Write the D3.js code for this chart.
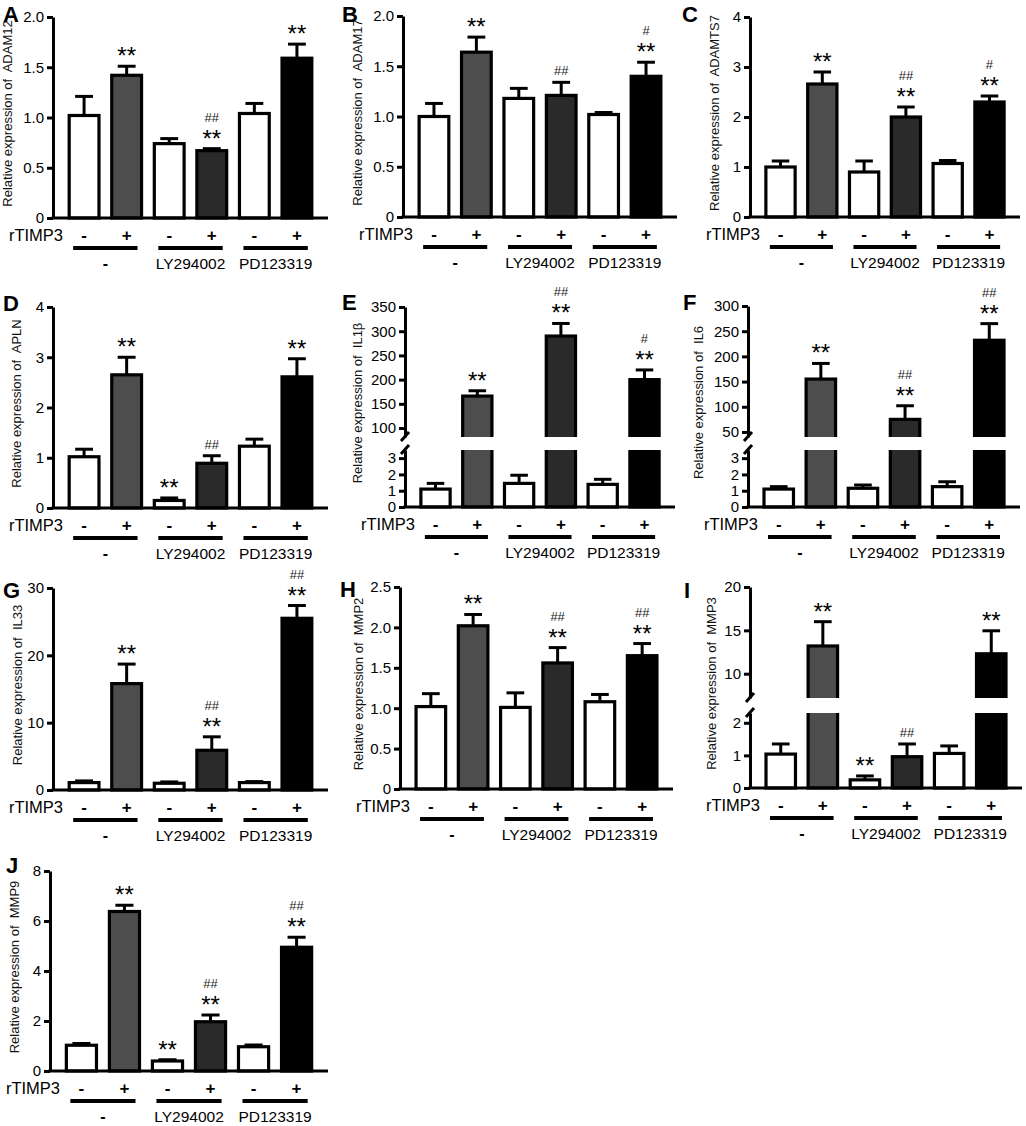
<!DOCTYPE html>
<html>
<head>
<meta charset="utf-8">
<script src="https://cdn.jsdelivr.net/npm/d3@7"></script>
<style>
  body { margin: 0; background: #fff; }
  svg { display: block; }
</style>
</head>
<body>
<div id="fig"></div>
<script>
const FRAME_WIDTH = 1026;
const FRAME_HEIGHT = 1126;
const FONT = "Liberation Sans, Arial, Helvetica, sans-serif";

// shared categories
const TREATMENT = ["-", "+", "-", "+", "-", "+"];
const GROUPS = ["-", "LY294002", "PD123319"];
const FILLS = ["#ffffff", "#4d4d4d", "#ffffff", "#2a2a2a", "#ffffff", "#000000"];

// values (mean, error, significance marks)
const ADAM12 = [1.02, 1.42, 0.74, 0.67, 1.04, 1.59];
const ADAM12_ERR = [0.19, 0.09, 0.05, 0.02, 0.10, 0.14];
const ADAM12_SIG = ["", "**", "", "##|**", "", "**"];

const ADAM17 = [1.00, 1.64, 1.18, 1.21, 1.02, 1.40];
const ADAM17_ERR = [0.13, 0.15, 0.10, 0.13, 0.02, 0.14];
const ADAM17_SIG = ["", "**", "", "##", "", "#|**"];

const ADAMTS7 = [1.00, 2.66, 0.90, 2.00, 1.07, 2.30];
const ADAMTS7_ERR = [0.12, 0.24, 0.22, 0.20, 0.06, 0.12];
const ADAMTS7_SIG = ["", "**", "", "##|**", "", "#|**"];

const APLN = [1.02, 2.65, 0.15, 0.89, 1.23, 2.61];
const APLN_ERR = [0.15, 0.35, 0.05, 0.15, 0.14, 0.36];
const APLN_SIG = ["", "**", "**", "##", "", "**"];

const IL1B = [1.10, 166, 1.45, 290, 1.39, 200];
const IL1B_ERR = [0.35, 11, 0.50, 26, 0.31, 20];
const IL1B_SIG = ["", "**", "", "##|**", "", "#|**"];

const IL6 = [1.10, 155, 1.15, 75, 1.25, 232];
const IL6_ERR = [0.15, 31, 0.20, 27, 0.30, 33];
const IL6_SIG = ["", "**", "", "##|**", "", "##|**"];

const IL33 = [1.1, 15.8, 1.0, 5.9, 1.1, 25.5];
const IL33_ERR = [0.25, 2.9, 0.2, 2.0, 0.15, 1.9];
const IL33_SIG = ["", "**", "", "##|**", "", "##|**"];

const MMP2 = [1.02, 2.02, 1.01, 1.56, 1.08, 1.65];
const MMP2_ERR = [0.16, 0.14, 0.18, 0.19, 0.09, 0.15];
const MMP2_SIG = ["", "**", "", "##|**", "", "##|**"];

const MMP3 = [1.04, 13.2, 0.25, 0.96, 1.06, 12.3];
const MMP3_ERR = [0.31, 2.8, 0.12, 0.39, 0.23, 2.65];
const MMP3_SIG = ["", "**", "**", "##", "", "**"];

const MMP9 = [1.03, 6.38, 0.40, 1.97, 0.97, 4.95];
const MMP9_ERR = [0.07, 0.25, 0.05, 0.27, 0.07, 0.40];
const MMP9_SIG = ["", "**", "**", "##|**", "", "##|**"];

// tick labels
const TICKS_2 = [0, 0.5, 1.0, 1.5, 2.0];
const TICKS_25 = [0, 0.5, 1.0, 1.5, 2.0, 2.5];
const TICKS_4 = [0, 1, 2, 3, 4];
const TICKS_30 = [0, 10, 20, 30];
const TICKS_8 = [0, 2, 4, 6, 8];
const LOW_TICKS_3 = [0, 1, 2, 3];
const LOW_TICKS_2 = [0, 1, 2];
const HIGH_TICKS_IL1B = [100, 150, 200, 250, 300, 350];
const HIGH_TICKS_IL6 = [50, 100, 150, 200, 250, 300];
const HIGH_TICKS_MMP3 = [10, 15, 20];

const fmt1 = d => d === 0 ? "0" : d3.format(".1f")(d);
const fmt0 = d3.format("d");

// panel layout (pixels) + which data goes where
const PANELS = [
  {letter: "A", lx: 3, ly: 22, gene: "ADAM12", mean: ADAM12, err: ADAM12_ERR, sig: ADAM12_SIG,
   ax: 53, top: 17, y0: 218, right: 328, labelX: 7, max: 2, ticks: TICKS_2, fmt: fmt1},
  {letter: "B", lx: 342, ly: 22, gene: "ADAM17", mean: ADAM17, err: ADAM17_ERR, sig: ADAM17_SIG,
   ax: 403, top: 16, y0: 217, right: 677, labelX: 357, max: 2, ticks: TICKS_2, fmt: fmt1},
  {letter: "C", lx: 682, ly: 22, gene: "ADAMTS7", mean: ADAMTS7, err: ADAMTS7_ERR, sig: ADAMTS7_SIG,
   ax: 750, top: 17, y0: 217, right: 1020, labelX: 714, max: 4, ticks: TICKS_4, fmt: fmt0},
  {letter: "D", lx: 3, ly: 311, gene: "APLN", mean: APLN, err: APLN_ERR, sig: APLN_SIG,
   ax: 53, top: 307, y0: 508, right: 328, labelX: 16, max: 4, ticks: TICKS_4, fmt: fmt0},
  {letter: "E", lx: 342, ly: 310, gene: "IL1\u03B2", mean: IL1B, err: IL1B_ERR, sig: IL1B_SIG,
   ax: 405, top: 307, y0: 507, right: 675, labelX: 357, brk: [437, 450],
   lowMax: 3.5, highMin: 81.5, highMax: 350, lowTicks: LOW_TICKS_3, highTicks: HIGH_TICKS_IL1B, fmt: fmt0},
  {letter: "F", lx: 683, ly: 310, gene: "IL6", mean: IL6, err: IL6_ERR, sig: IL6_SIG,
   ax: 748, top: 306, y0: 507, right: 1020, labelX: 698, brk: [437, 450],
   lowMax: 3.5, highMin: 40, highMax: 300, lowTicks: LOW_TICKS_3, highTicks: HIGH_TICKS_IL6, fmt: fmt0},
  {letter: "G", lx: 3, ly: 598, gene: "IL33", mean: IL33, err: IL33_ERR, sig: IL33_SIG,
   ax: 53, top: 588, y0: 790, right: 328, labelX: 17, max: 30, ticks: TICKS_30, fmt: fmt0},
  {letter: "H", lx: 340, ly: 597, gene: "MMP2", mean: MMP2, err: MMP2_ERR, sig: MMP2_SIG,
   ax: 400, top: 587, y0: 789, right: 673, labelX: 358, max: 2.5, ticks: TICKS_25, fmt: fmt1},
  {letter: "I", lx: 684, ly: 598, gene: "MMP3", mean: MMP3, err: MMP3_ERR, sig: MMP3_SIG,
   ax: 750, top: 587, y0: 788, right: 1022, labelX: 711, brk: [698, 713],
   lowMax: 2.3, highMin: 7.2, highMax: 20, lowTicks: LOW_TICKS_2, highTicks: HIGH_TICKS_MMP3, fmt: fmt0},
  {letter: "J", lx: 6, ly: 873, gene: "MMP9", mean: MMP9, err: MMP9_ERR, sig: MMP9_SIG,
   ax: 50, top: 871, y0: 1071, right: 328, labelX: 14, max: 8, ticks: TICKS_8, fmt: fmt0}
];

const FRAME = d3.select("#fig")
  .append("svg")
    .attr("width", FRAME_WIDTH)
    .attr("height", FRAME_HEIGHT)
    .attr("font-family", FONT);

function styleAxis(g) {
  g.attr("font-size", 15).attr("font-family", FONT);
  g.selectAll("path, line").attr("stroke", "#000").attr("stroke-width", 3);
  g.selectAll("text").attr("fill", "#000");
}

function drawPanel(p) {
  const G = FRAME.append("g");
  const idx = d3.range(p.mean.length);

  const X_SCALE = d3.scaleBand()
    .domain(idx)
    .range([p.ax, p.right])
    .paddingInner(0.3)
    .paddingOuter(0.38);
  const bw = X_SCALE.bandwidth();

  let LOW, HIGH, Y;
  if (p.brk) {
    LOW = d3.scaleLinear().domain([0, p.lowMax]).range([p.y0, p.brk[1]]);
    HIGH = d3.scaleLinear().domain([p.highMin, p.highMax]).range([p.brk[0], p.top]);
    Y = v => v <= p.lowMax ? LOW(v) : HIGH(v);
  } else {
    LOW = d3.scaleLinear().domain([0, p.max]).range([p.y0, p.top]);
    Y = LOW;
  }

  // error bars (drawn first so the bar outline sits over the stem)
  const eb = G.selectAll(".err").data(idx).enter().append("g");
  eb.append("line")
    .attr("x1", i => X_SCALE(i) + bw / 2)
    .attr("x2", i => X_SCALE(i) + bw / 2)
    .attr("y1", i => Y(p.mean[i]))
    .attr("y2", i => Y(p.mean[i] + p.err[i]))
    .attr("stroke", "#000").attr("stroke-width", 3);
  eb.append("line")
    .attr("x1", i => X_SCALE(i) + bw / 2 - bw * 0.3)
    .attr("x2", i => X_SCALE(i) + bw / 2 + bw * 0.3)
    .attr("y1", i => Y(p.mean[i] + p.err[i]))
    .attr("y2", i => Y(p.mean[i] + p.err[i]))
    .attr("stroke", "#000").attr("stroke-width", 3);

  // bars
  G.selectAll("rect.bar").data(idx).enter().append("rect")
    .attr("class", "bar")
    .attr("x", i => X_SCALE(i))
    .attr("y", i => Y(p.mean[i]))
    .attr("width", bw)
    .attr("height", i => p.y0 - Y(p.mean[i]))
    .attr("fill", i => FILLS[i])
    .attr("stroke", "#000")
    .attr("stroke-width", 3.2);

  // gap of the broken axis
  if (p.brk) {
    G.append("rect")
      .attr("x", p.ax + 2)
      .attr("y", p.brk[0])
      .attr("width", p.right - p.ax)
      .attr("height", p.brk[1] - p.brk[0])
      .attr("fill", "#fff");
  }

  // y axis
  if (p.brk) {
    G.append("g")
      .attr("transform", "translate(" + p.ax + ",0)")
      .call(d3.axisLeft(LOW).tickValues(p.lowTicks).tickFormat(p.fmt).tickSize(6).tickSizeOuter(0).tickPadding(3))
      .call(styleAxis);
    G.append("g")
      .attr("transform", "translate(" + p.ax + ",0)")
      .call(d3.axisLeft(HIGH).tickValues(p.highTicks).tickFormat(p.fmt).tickSize(6).tickSizeOuter(0).tickPadding(3))
      .call(styleAxis);
    // break marks
    G.selectAll(".slash").data(p.brk).enter().append("line")
      .attr("x1", p.ax - 4).attr("y1", d => d + 4)
      .attr("x2", p.ax + 4).attr("y2", d => d - 5)
      .attr("stroke", "#000").attr("stroke-width", 3);
  } else {
    G.append("g")
      .attr("transform", "translate(" + p.ax + ",0)")
      .call(d3.axisLeft(LOW).tickValues(p.ticks).tickFormat(p.fmt).tickSize(6).tickSizeOuter(0).tickPadding(3))
      .call(styleAxis);
  }

  // x axis line
  G.append("line")
    .attr("x1", p.ax - 1.5).attr("x2", p.right)
    .attr("y1", p.y0).attr("y2", p.y0)
    .attr("stroke", "#000").attr("stroke-width", 3);

  // y label
  G.append("text")
    .attr("transform", "translate(" + p.labelX + "," + ((p.top + p.y0) / 2 - 4) + ") rotate(-90)")
    .attr("text-anchor", "middle")
    .attr("dominant-baseline", "central")
    .style("white-space", "pre")
    .attr("font-size", 13)
    .attr("fill", "#111")
    .text("Relative expression of  " + p.gene);

  // significance marks
  idx.forEach(i => {
    if (!p.sig[i]) return;
    const parts = p.sig[i].split("|");
    const top = Y(p.mean[i] + p.err[i]);
    const cx = X_SCALE(i) + bw / 2;
    if (parts.length === 2) {
      G.append("text").attr("x", cx).attr("y", top - 27)
        .attr("text-anchor", "middle").attr("font-size", 13).attr("fill", "#222")
        .text(parts[0]);
      G.append("text").attr("x", cx).attr("y", top - 2)
        .attr("text-anchor", "middle").attr("font-size", 24).attr("fill", "#000")
        .text(parts[1]);
    } else if (parts[0].startsWith("#")) {
      G.append("text").attr("x", cx).attr("y", top - 7)
        .attr("text-anchor", "middle").attr("font-size", 13).attr("fill", "#222")
        .text(parts[0]);
    } else {
      G.append("text").attr("x", cx).attr("y", top - 2)
        .attr("text-anchor", "middle").attr("font-size", 24).attr("fill", "#000")
        .text(parts[0]);
    }
  });

  // treatment row
  G.append("text")
    .attr("x", p.ax + 10).attr("y", p.y0 + 23)
    .attr("text-anchor", "end").attr("font-size", 16.5)
    .text("rTIMP3");
  G.selectAll(".treat").data(idx).enter().append("text")
    .attr("x", i => X_SCALE(i) + bw / 2)
    .attr("y", p.y0 + 23)
    .attr("text-anchor", "middle")
    .attr("font-size", 17)
    .attr("font-weight", "bold")
    .text(i => TREATMENT[i]);

  // group bars + labels
  GROUPS.forEach((name, k) => {
    const x1 = X_SCALE(2 * k) + 4;
    const x2 = X_SCALE(2 * k + 1) + bw - 4;
    G.append("line")
      .attr("x1", x1).attr("x2", x2)
      .attr("y1", p.y0 + 30).attr("y2", p.y0 + 30)
      .attr("stroke", "#000").attr("stroke-width", 4);
    G.append("text")
      .attr("x", (x1 + x2) / 2).attr("y", p.y0 + 51)
      .attr("text-anchor", "middle")
      .attr("font-size", name === "-" ? 16 : 15.5)
      .attr("font-weight", name === "-" ? "bold" : "normal")
      .text(name);
  });

  // panel letter
  G.append("text")
    .attr("x", p.lx).attr("y", p.ly)
    .attr("font-size", 22)
    .attr("font-weight", "bold")
    .text(p.letter);
}

PANELS.forEach(drawPanel);
</script>
</body>
</html>
